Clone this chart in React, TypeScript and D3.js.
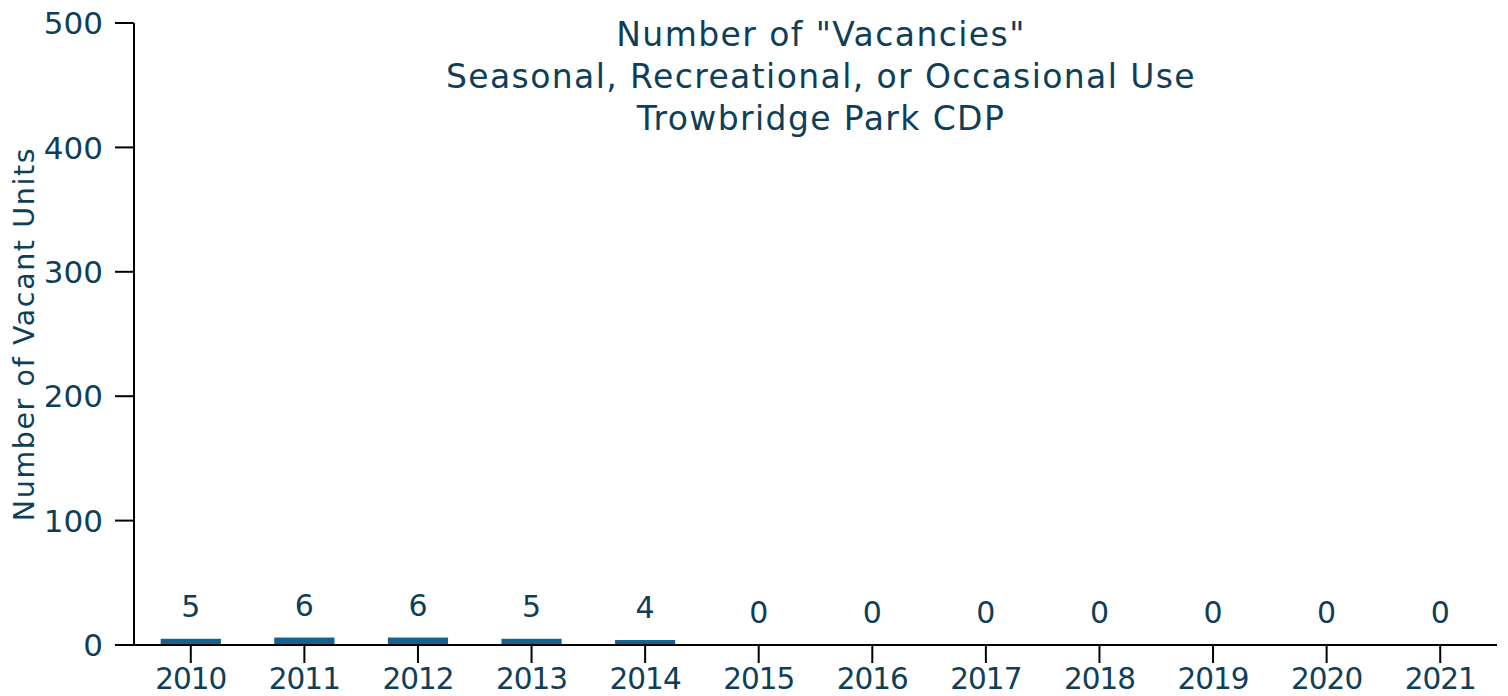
import React from "react";
import * as d3 from "d3";

const years = ["2010","2011","2012","2013","2014","2015","2016","2017","2018","2019","2020","2021"];
const values = [5, 6, 6, 5, 4, 0, 0, 0, 0, 0, 0, 0];
const yTicks = [0, 100, 200, 300, 400, 500];
const titleLines = ['Number of "Vacancies"', "Seasonal, Recreational, or Occasional Use", "Trowbridge Park CDP"];
const yLabel = "Number of Vacant Units";

const W = 1508, H = 696;
const M = { left: 134, right: 1497, top: 23, bottom: 645 };
const TEXT = "#0f3f58";
const BAR = "#17628c";
const FONT = "'DejaVu Sans', sans-serif";

export default function App() {
  const x = d3.scaleBand().domain(years).range([M.left, M.right]).paddingInner(0.47).paddingOuter(0.235);
  const y = d3.scaleLinear().domain([0, 500]).range([M.bottom, M.top]);
  const xc = (d: string) => (x(d) as number) + x.bandwidth() / 2;
  return (
    <svg width={W} height={H} style={{ position: "absolute", left: 0, top: 0 }} fontFamily={FONT}>
      <rect width={W} height={H} fill="#fff" />
      {values.map((v, i) => (
        <rect key={i} x={x(years[i])} y={y(v)} width={x.bandwidth()} height={y(0) - y(v)} fill={BAR} />
      ))}
      {values.map((v, i) => (
        <text key={"l" + i} x={xc(years[i])} y={y(v) - 22} textAnchor="middle" fontSize={30} fill={TEXT}>{v}</text>
      ))}
      <line x1={M.left} x2={M.left} y1={M.top} y2={M.bottom} stroke="#000" strokeWidth={2} />
      <line x1={M.left} x2={M.right} y1={M.bottom} y2={M.bottom} stroke="#000" strokeWidth={2} />
      {yTicks.map(t => (
        <g key={"y" + t}>
          <line x1={M.left - 19} x2={M.left} y1={y(t)} y2={y(t)} stroke="#000" strokeWidth={2} />
          <text x={M.left - 31} y={y(t)} dy="0.36em" textAnchor="end" fontSize={31} fill={TEXT}>{t}</text>
        </g>
      ))}
      {years.map(yr => (
        <g key={"x" + yr}>
          <line x1={xc(yr)} x2={xc(yr)} y1={M.bottom} y2={M.bottom + 18} stroke="#000" strokeWidth={2} />
          <text x={xc(yr)} y={689} textAnchor="middle" fontSize={29.5} letterSpacing={-1} fill={TEXT}>{yr}</text>
        </g>
      ))}
      <text transform={`translate(34,${(M.top + M.bottom) / 2}) rotate(-90)`} textAnchor="middle" fontSize={28.5} letterSpacing={1.6} fill={TEXT}>{yLabel}</text>
      {titleLines.map((t, i) => (
        <text key={"t" + i} x={821} y={46 + i * 42} textAnchor="middle" fontSize={33} letterSpacing={1.4} fill={TEXT}>{t}</text>
      ))}
    </svg>
  );
}
